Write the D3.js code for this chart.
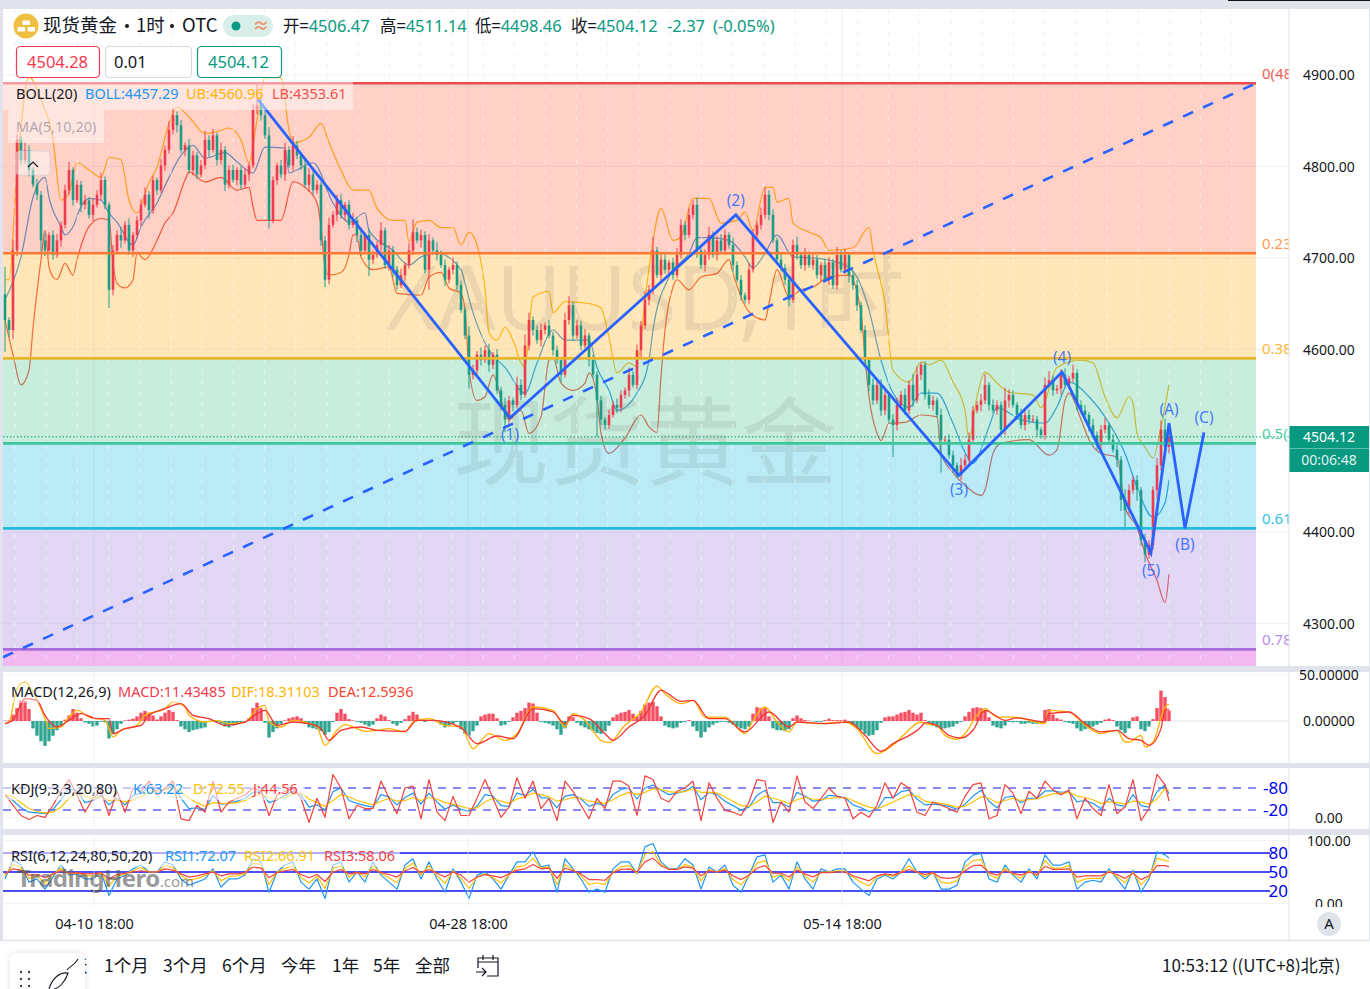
<!DOCTYPE html>
<html lang="zh">
<head>
<meta charset="utf-8">
<title>现货黄金 1时</title>
<script src="https://cdn.jsdelivr.net/npm/d3@7"></script>
<style>
html,body{margin:0;padding:0;background:#e0e3eb;overflow:hidden}
svg{display:block}
text{font-family:"Noto Sans","Noto Sans CJK SC",sans-serif}
.cjk{font-family:"Noto Sans CJK SC","Noto Sans",sans-serif}
</style>
</head>
<body>
<svg id="chart" width="1370" height="989"></svg>
<script>
// ---- hourly candles: closes, wick lengths above and below the body ----
const firstOpen = 4660;
const closes = [
4632,4621,4708,4829,4807,4818,4796,4780,4769,4719,4708,4725,4703,4719,4736,4774,4796,4763,4780,4758,
4763,4747,4758,4769,4785,4758,4665,4708,4725,4719,4736,4708,4725,4741,4758,4769,4752,4785,4774,4801,
4818,4840,4856,4845,4818,4823,4796,4812,4791,4801,4829,4818,4834,4807,4818,4780,4796,4785,4796,4780,
4791,4801,4862,4867,4856,4834,4741,4785,4801,4791,4818,4801,4823,4812,4801,4780,4791,4774,4780,4719,
4676,4736,4747,4763,4747,4758,4736,4741,4725,4708,4725,4698,4703,4714,4730,4692,4708,4687,4670,4681,
4692,4708,4728,4719,4725,4687,4719,4708,4703,4692,4676,4687,4692,4670,4643,4615,4572,4577,4594,4588,
4599,4583,4594,4555,4539,4523,4544,4539,4561,4550,4604,4632,4621,4610,4621,4626,4615,4599,4588,4572,
4632,4648,4615,4626,4604,4615,4588,4572,4544,4523,4517,4528,4539,4536,4550,4555,4572,4561,4599,4626,
4654,4665,4708,4681,4698,4687,4695,4681,4703,4736,4725,4747,4758,4708,4692,4703,4725,4703,4719,4708,
4725,4714,4692,4676,4659,4654,4687,4725,4736,4747,4769,4747,4719,4698,4689,4676,4654,4714,4703,4692,
4703,4692,4698,4681,4692,4676,4695,4670,4703,4687,4703,4681,4670,4648,4621,4588,4561,4544,4561,4533,
4550,4523,4517,4539,4550,4533,4561,4544,4572,4583,4550,4539,4544,4528,4501,4501,4484,4473,4462,4473,
4479,4501,4533,4539,4544,4561,4539,4533,4539,4512,4544,4550,4539,4528,4517,4528,4523,4523,4512,4506,
4561,4566,4555,4557,4572,4561,4568,4574,4539,4533,4528,4517,4506,4495,4512,4517,4501,4490,4479,4435,
4424,4446,4457,4446,4391,4375,4386,4446,4473,4512,4493,4504.12];
const upperWick = [
30,3,12,6,4,8,5,3,6,4,8,3,5,7,4,6,9,3,5,4,6,3,7,5,8,4,3,6,5,9,4,7,3,5,6,8,4,5,3,7,
5,9,8,4,6,3,7,5,4,6,10,5,7,3,8,4,5,6,3,4,7,3,6,24,8,5,9,4,3,6,8,4,10,5,3,6,7,4,5,3,
5,8,4,6,7,3,5,8,4,6,3,7,5,4,9,3,6,5,4,7,3,8,14,5,6,4,7,3,9,5,6,3,8,4,5,3,10,6,4,8,
5,7,3,6,4,8,5,3,9,6,12,8,4,5,7,3,6,4,5,3,8,10,4,6,5,7,3,6,4,5,3,6,4,7,5,3,8,4,6,5,
9,5,15,4,6,7,3,5,8,6,4,7,5,8,3,6,9,4,5,7,6,3,8,4,5,3,7,6,4,8,8,5,6,3,7,4,5,6,9,3,
8,4,6,5,3,7,6,4,9,5,7,3,5,6,4,5,3,7,4,6,5,3,6,8,4,7,5,12,9,3,4,6,5,3,7,4,6,5,3,8,
6,8,5,4,7,12,3,6,5,4,14,6,5,3,7,4,6,5,4,3,8,10,5,4,6,7,3,9,4,5,6,3,7,4,5,8,3,6,5,4,
12,6,4,5,3,7,5,4,8,10,12,15];
const lowerWick = [
35,8,10,6,5,4,7,3,6,12,6,4,5,3,7,4,5,6,3,8,5,4,7,3,6,5,20,6,4,8,3,5,7,4,6,3,9,4,5,3,
6,4,5,8,3,7,4,6,5,3,4,8,3,6,5,7,4,3,6,5,4,7,3,5,6,4,9,3,5,4,7,3,6,4,5,3,8,5,4,6,
8,5,3,7,4,6,5,3,8,6,4,18,5,3,7,4,6,8,5,3,6,4,5,3,8,4,22,5,6,3,7,4,5,6,3,4,15,5,4,6,
3,8,5,4,6,14,5,7,4,6,3,5,6,4,7,5,3,6,4,8,3,5,6,4,5,3,7,4,40,6,5,4,3,6,5,4,7,3,5,8,
4,6,5,3,7,4,6,5,3,4,6,3,5,8,4,7,5,3,6,4,5,4,8,3,6,4,5,3,7,5,4,6,3,5,4,6,7,3,5,4,
6,3,5,4,7,3,6,4,5,3,4,8,5,6,3,4,7,5,4,6,5,4,35,6,3,5,4,7,3,6,5,4,6,3,36,5,4,8,3,5,
6,4,5,3,7,4,6,3,5,4,6,8,3,5,4,6,5,3,8,4,5,3,6,4,7,3,5,4,6,3,4,7,3,5,6,4,5,3,8,12,
22,5,4,12,6,8,4,5,10,6,5,7];

// ---- Bollinger bands (bar position, price) ----
const upperBars = [0,1,3,6,9,12,14,16,18,21,24,26,29,31,33,36,38,41,43,46,50,53,56,59,61,63,65,69,71,72,76,79,81,84,87,91,93,97,100,101,103,106,109,112,114,116,118,120,121,123,125,127,129,130,132,136,137,140,146,149,151,153,156,158,160,162,164,167,169,172,176,179,183,185,187,190,192,193,196,197,201,204,206,212,216,217,220,222,226,229,231,234,237,240,241,243,245,248,251,257,259,263,269,272,275,278,281,282,283,285,287,289,291];
const upperBand = [4676,4676,4796,4898,4873,4829,4763,4771,4804,4796,4788,4810,4807,4763,4749,4782,4799,4847,4865,4854,4836,4838,4842,4829,4804,4851,4897,4897,4840,4826,4832,4847,4826,4796,4774,4774,4754,4741,4741,4717,4739,4741,4733,4733,4714,4728,4714,4665,4618,4610,4624,4610,4585,4580,4657,4663,4640,4652,4650,4645,4613,4574,4585,4581,4654,4719,4754,4719,4723,4765,4765,4738,4741,4750,4730,4777,4777,4761,4765,4738,4728,4722,4708,4711,4733,4708,4650,4577,4564,4586,4583,4588,4564,4533,4501,4548,4575,4563,4553,4550,4536,4580,4588,4585,4548,4525,4548,4541,4508,4493,4481,4515,4560.96];
const lowerBars = [0,2,4,6,7,9,10,11,12,13,15,17,18,21,24,26,27,28,30,32,33,35,38,40,42,45,46,50,54,58,61,62,63,69,72,75,78,79,80,81,84,86,87,88,89,92,96,98,104,106,109,111,114,115,116,118,120,122,125,126,129,131,134,136,137,139,142,145,146,148,149,151,155,159,161,163,164,165,167,168,171,174,178,181,182,186,190,191,193,196,199,202,206,211,214,215,216,218,219,221,225,229,233,234,237,240,244,245,247,249,256,261,263,265,266,269,271,274,278,280,283,285,288,290,291];
const lowerBand = [4632,4594,4561,4577,4623,4698,4730,4690,4679,4676,4694,4681,4698,4734,4743,4741,4694,4672,4667,4676,4705,4698,4719,4738,4749,4785,4794,4783,4788,4774,4777,4756,4741,4741,4783,4777,4760,4734,4690,4681,4684,4703,4725,4725,4701,4687,4690,4661,4659,4679,4684,4667,4661,4643,4577,4544,4548,4572,4530,4523,4533,4508,4526,4588,4591,4563,4555,4563,4574,4548,4508,4486,4503,4528,4515,4509,4570,4621,4668,4676,4665,4679,4683,4698,4683,4641,4632,4650,4687,4657,4665,4668,4679,4681,4640,4591,4548,4508,4500,4519,4520,4528,4526,4486,4465,4451,4440,4446,4486,4497,4501,4484,4490,4544,4552,4523,4501,4486,4482,4427,4405,4377,4347,4323,4353.61];
const middleBars = [0,4,7,10,11,14,15,17,19,21,24,26,28,32,34,38,41,44,47,50,55,58,62,65,70,71,77,82,86,90,91,97,101,104,108,114,115,117,121,125,130,133,137,140,146,148,151,153,158,161,162,166,171,173,176,181,185,187,190,193,197,202,209,213,216,219,222,226,229,233,237,240,242,246,248,254,260,263,266,271,276,280,283,287,290,291];
const middleBand = [4654,4701,4766,4788,4766,4734,4725,4734,4756,4765,4763,4749,4739,4714,4734,4760,4788,4812,4823,4809,4815,4805,4793,4821,4820,4793,4804,4760,4739,4749,4730,4708,4692,4701,4705,4687,4672,4640,4599,4580,4552,4585,4621,4610,4610,4580,4555,4533,4552,4588,4621,4679,4705,4722,4722,4719,4701,4689,4705,4725,4701,4700,4694,4679,4643,4588,4552,4536,4552,4552,4519,4487,4475,4515,4536,4523,4519,4537,4564,4548,4519,4486,4449,4416,4432,4457.29];

// ---- Fibonacci retracement and Elliott wave drawing ----
const fibHigh = 4891, fibLow = 4103;
const fibRatios = [0, 0.236, 0.382, 0.5, 0.618, 0.786];
const fibTexts = ["0(48","0.23","0.38","0.5(","0.61","0.78"];
const fibLineColors = ["#ef4b50","#ff7a30","#e8b52c","#3fc69a","#25bbdc","#a86bdc"];
const fibTextColors = ["#f0625a","#ff9a50","#ffb63a","#4fcfa4","#2cc3e2","#b48fe6"];
const fibZoneColors = ["#ff795c","#ffb837","#62cc9e","#37c3e2","#a98de2","#da34d4"];
const trendBars = [-0.5, 312.75];
const trendPrices = [4263, 4891];
const waveBars = [63.25,126.25,182.7,238.5,264.25,286.5,291,295,299.75];
const wavePrices = [4873,4525,4747,4462,4575,4377,4519,4404,4509];
const waveLabels = ["","(1)","(2)","(3)","(4)","(5)","(A)","(B)","(C)"];
const waveLabelGap = [0,17,-14,14,-14,18,-14,16,-15];

// ---- MACD ----
const macdHistogram = [
0.4,0.7,7,14,22,22,13,-8,-16,-22,-27,-22,-16,-10,-5,1.5,6,13,9,3,
-1.5,-3,-6,-5,-1,-1.5,-19,-14,-9,-3,0.7,1.5,2.5,5,9,11,9,6,1.5,5,
9,12,10,1,-6,-9,-12,-10,-9,-8,-7,-1,0.7,-1.5,-3,-6,-7,-5,-3,-2,
-1.5,3,14,20,14,-2,-18,-12,-8,-3,0.7,3,4,5,3,-3,-7,-8,-9,-11,
-15,-12,-1,9,13,8,2,0.7,-1,-2,-4,-6,-4,3,7,5,1,-3,-5,-2,
2,6,10,7,2,-1,0.7,1.5,1,-4,-7,-5,-3,-1,-9,-14,-16,-11,-5,5,
7,8,8,3,-5,-4,-1,4,9,11,14,20,19,9,-1,-2,-3,-5,-9,-15,
-8,5,4,-2,-5,-7,-9,-11,-13,-14,-11,-5,4,7,9,10,12,8,5,11,
18,20,21,16,5,-5,-7,-8,-7,-2,-1,1,-6,-11,-18,-12,-7,-4,-2,-1,
-1,-2,-4,-6,-8,-9,-6,8,15,14,14,5,-8,-10,-10,-11,-9,3,6,3,
1,0.5,-0.5,-1,-1,1,2.5,1,1,1,1.5,-1,-5,-8,-10,-14,-16,-15,-10,-2,
4,5,5,7,9,10,12,9,7,9,1,-2,-5,-7,-9,-8,-7,-6,-3,-1,
5,10,14,15,14,11,4,-5,-7,-8,-5,-1,-1.5,-1,-3,-3,-2,-3,-3,-2,
12,13,7,3,1.5,-1,-2,-3,-8,-11,-9,-8,-6,-4,-2,1.5,2.5,1,-6,-10,
-13,-8,4,5,-9,-11,-6,2,14,33,26,11.43485];
const difBars = [0,1,3,5,7,10,11,14,16,18,21,25,27,29,33,35,40,42,45,46,50,53,56,60,63,65,66,69,72,75,78,80,83,85,87,90,93,96,100,102,106,110,114,117,121,125,128,132,137,140,142,145,149,151,155,159,163,165,169,172,175,180,185,187,190,193,196,198,203,210,213,218,222,225,229,230,233,235,238,240,243,245,248,252,260,261,266,270,274,278,280,281,284,285,287,290,291];
const difValues = [-2.9,-1.1,35.1,42.4,31.5,2.5,-8.3,-6.5,4.3,11.6,4.3,0.7,-17.4,-10.1,-4.7,6.2,13.4,20.6,15.2,6.2,-1.1,0.7,-2.9,-1.1,13.4,17,-1.1,-6.5,0.7,-1.1,-6.5,-26.4,-10.1,-4,-6.5,-11.2,-10.1,-8.3,-11.9,-1.1,2.5,-4.7,-6.5,-30,-13.8,-21,-13.8,15.2,11.6,-6.5,8,0.7,-21,-23.5,-4.7,9.8,38,29.7,18.8,22.4,4.3,4.3,-13.8,0.7,15.2,-1.1,-11.9,-1.1,-2.9,-1.1,-8.3,-35.5,-26.4,-13.8,-1.1,-2.9,-4.7,-15.6,-19.9,-13.8,6.2,13.4,4.3,4.3,-2.9,11.6,9.8,-4.7,-13.8,-10.1,-22.8,-22.8,-15.6,-28.2,-22.8,15.2,18.31103];
const deaBars = [0,2,5,8,10,13,16,19,23,26,27,30,34,36,40,44,47,51,55,60,63,65,68,72,76,79,81,84,89,93,100,103,107,114,118,123,127,132,137,140,142,146,150,152,156,160,164,169,172,176,180,185,191,196,198,205,211,215,219,222,229,230,233,236,239,242,245,250,253,260,261,266,270,274,278,281,284,286,289,290,291];
const deaValues = [-2.9,0.7,24.3,22.4,6.2,-6.5,0.7,8,2.5,2.5,-13.8,-8.3,-4.7,6.2,13.4,18.8,6.2,2.5,-4.7,-1.1,8,11.6,-4.7,-1.1,-2.9,-8.3,-21,-10.1,-6.5,-10.1,-11.2,0.7,0.7,-7.2,-24.6,-16.3,-19.2,13.4,9.8,-2.9,6.2,2.5,-13.8,-21,-6.5,6.2,33.3,21.4,22.4,2.5,2.5,-11.9,9.8,-6.5,-1.1,-2.9,-1.1,-15.6,-32.9,-24.6,-6.5,-1.8,-4.7,-15.6,-18.5,-10.1,11.6,0.7,3.3,-1.1,8,9.8,-2.9,-11.9,-10.1,-19.2,-21,-26.4,-8.3,11.6,12.5936];

// ---- KDJ ----
const kdjK = [
60,46,26,14,12,10,22,48,78,72,40,46,60,34,52,34,60,66,82,72,76,88,52,24,26,22,60,36,38,44,52,68,70,40,48,60,72,62,28,34,20,70,80,46,38,32,28,62,56,34,54,66,36,66,42,22,34,22,
16,30,62,58,32,30,66,60,76,54,52,26,58,62,50,30,38,32,62,76,80,50,80,88,74,62,66,72,84,48,68,62,44,32,20,28,60,74,40,40,28,68,58,44,46,60,58,54,34,26,16,22,54,54,70,74,50,
34,36,34,30,22,36,58,74,44,26,54,58,40,52,52,72,72,68,70,42,46,38,24,52,34,30,62,32,28,70,88,63.22];
const kdjD = [
62,56,40,24,16,12,14,28,52,66,58,50,56,46,48,42,48,56,68,72,74,80,70,52,40,30,40,38,38,40,46,56,64,54,50,54,64,66,50,40,30,46,62,56,46,40,34,44,52,44,46,54,46,54,50,40,36,30,
24,26,42,52,44,38,50,56,66,62,56,44,48,54,52,44,42,38,48,60,68,62,68,78,76,70,68,70,78,68,68,66,56,44,32,30,42,58,52,46,38,48,54,50,48,52,54,54,46,36,28,24,32,42,52,62,58,
44,40,38,34,28,30,42,56,52,40,46,52,46,48,50,58,64,66,68,58,54,48,38,42,40,36,44,42,36,50,78,72.55];
const kdjJ = [
61,33,5,-6,5,0,33,71,103,61,14,52,71,5,71,14,80,71,99,61,80,99,-4,-9,33,14,99,14,42,52,61,80,71,5,61,71,80,52,-14,52,0,117,80,-4,33,24,24,99,52,10,80,85,-4,103,14,-9,57,5,
5,52,103,52,0,28,108,52,99,24,52,-9,99,71,33,-4,52,24,99,99,85,5,113,103,52,42,71,80,99,-9,94,52,19,14,5,42,103,99,-14,42,14,113,42,24,52,80,57,52,-4,14,0,33,94,52,94,80,14,
5,42,33,24,14,57,89,94,-4,5,89,66,10,71,52,99,75,61,75,-4,52,24,5,89,10,28,103,-9,24,117,89,44.56];

// ---- RSI ----
const rsi1 = [
39,69,61,34,39,23,42,61,45,47,39,39,50,13,39,45,55,61,50,50,66,61,39,29,34,39,55,26,39,39,45,71,66,18,50,61,66,34,23,39,8,61,66,34,50,34,66,45,34,23,61,71,39,66,39,18,55,34,
8,45,50,39,23,45,66,66,82,58,61,18,71,55,39,18,23,18,55,66,66,47,90,95,66,55,55,71,61,23,58,50,61,29,18,45,74,77,34,45,23,66,39,23,55,50,55,55,34,23,13,39,45,39,50,71,50,
39,50,23,23,29,66,77,79,39,34,61,45,34,55,39,77,61,61,66,23,34,37,34,55,39,23,53,18,39,82,77,72.07];
const rsi2 = [
44,62,57,40,44,32,46,56,47,48,44,44,49,28,43,47,52,57,50,50,60,57,44,37,40,44,52,36,43,44,47,64,62,30,50,56,60,41,33,43,24,56,60,42,50,42,60,48,41,33,56,64,45,60,44,32,52,40,
24,42,47,41,33,45,58,60,72,56,58,30,62,53,44,30,33,30,50,58,60,48,78,82,62,54,54,62,58,36,54,50,56,38,30,44,64,68,42,46,36,58,44,34,50,50,52,52,42,34,28,43,46,43,50,60,50,
43,49,34,32,36,58,68,70,46,40,56,47,40,52,44,68,56,56,60,34,39,40,40,52,43,33,50,30,42,72,68,66.91];
const rsi3 = [
47,55,53,45,46,41,47,52,48,49,47,47,49,39,46,48,50,52,50,50,55,53,47,42,44,47,50,44,47,47,49,58,56,41,49,52,54,46,41,46,35,50,54,47,49,47,54,49,46,42,52,57,49,54,48,42,50,45,
34,42,46,44,41,47,53,55,62,55,56,40,56,52,47,38,38,37,49,54,55,50,66,72,60,54,54,58,56,44,52,50,53,44,38,45,56,60,48,48,42,53,47,42,49,49,50,50,44,40,36,44,47,45,49,54,50,
46,49,41,40,42,52,60,61,49,45,52,48,45,50,46,59,54,54,55,42,44,44,44,50,46,40,48,38,44,60,60,58.06];

// ---- axis ticks and header figures ----
const priceTicks = [4900,4800,4700,4600,4400,4300];
const macdTicks = [50,0];
const kdjTicks = [0];
const rsiTicks = [100,0];
const timeBars = [22.25,115.75,209.25];
const timeLabels = ["04-10 18:00","04-28 18:00","05-14 18:00"];
const rangeButtons = ["1个月","3个月","6个月","今年","1年","5年","全部"];
const rangeButtonX = [104,163,222,281,332,373,415];
const lastPrice = 4504.12;

// ---- colours ----
const UP = "#ef3b4d", DOWN = "#1a9c86", INK = "#131722", WAVE = "#2962ff", BAND = "#e0e3eb";

const svg = d3.select("#chart");
const defs = svg.append("defs");
function clip(id, x, y, w, h) {
  defs.append("clipPath").attr("id", id).append("rect").attr("x", x).attr("y", y).attr("width", w).attr("height", h);
  return `url(#${id})`;
}
const mainClip = clip("c-main", 3, 9, 1286, 657);
const macdClip = clip("c-macd", 3, 672, 1286, 91);
const kdjClip = clip("c-kdj", 3, 768, 1286, 61);
const rsiClip = clip("c-rsi", 3, 835, 1286, 72);
const rsiAxisClip = clip("c-rsi-axis", 1290, 835, 79, 72);
const fibTextClip = clip("c-fibtext", 1256, 60, 33, 600);

// scales
const x = d3.scaleLinear().domain([0, 291]).range([5, 1169]);
const price = d3.scaleLinear().domain([4900, 4300]).range([75, 623.4]);
const macdY = d3.scaleLinear().domain([0, 50]).range([721, 675]);
const kdjY = d3.scaleLinear().domain([20, 80]).range([810, 788]);
const rsiY = d3.scaleLinear().domain([20, 80]).range([891, 853]);

// page panels
const panelRows = [[9, 657], [672, 91], [768, 61], [835, 72], [907, 33]];
svg.append("g").selectAll("rect").data(panelRows).join("rect")
  .attr("x", 3).attr("width", 1366).attr("y", d => d[0]).attr("height", d => d[1]).attr("fill", "#fff");
svg.append("rect").attr("x", 0).attr("y", 941).attr("width", 1370).attr("height", 48).attr("fill", "#fff");
svg.append("rect").attr("x", 1228).attr("y", 0).attr("width", 142).attr("height", 1).attr("fill", "#111");

// ---- main pane ----
const main = svg.append("g").attr("clip-path", mainClip);

main.append("g").selectAll("line").data(priceTicks).join("line")
  .attr("x1", 3).attr("x2", 1289).attr("y1", d => price(d)).attr("y2", d => price(d))
  .attr("stroke", "#f0f1f4");
main.append("g").selectAll("line").data(timeBars).join("line")
  .attr("x1", d => x(d)).attr("x2", d => x(d)).attr("y1", 9).attr("y2", 666)
  .attr("stroke", "#eceef2");

const lineAt = (bars, curve) => d3.line().x((d, i) => x(bars[i])).curve(curve);
main.append("path").attr("d", lineAt(upperBars, d3.curveMonotoneX).y(d => price(d))(upperBand)).attr("fill", "none").attr("stroke", "#ffb300").attr("stroke-width", 1.2);
main.append("path").attr("d", lineAt(lowerBars, d3.curveMonotoneX).y(d => price(d))(lowerBand)).attr("fill", "none").attr("stroke", "#f4452f").attr("stroke-width", 1.2);
main.append("path").attr("d", lineAt(middleBars, d3.curveMonotoneX).y(d => price(d))(middleBand)).attr("fill", "none").attr("stroke", "#1f8fe8").attr("stroke-width", 1.2);

// retracement zones laid over the bands
const fibPrice = r => fibHigh - (fibHigh - fibLow) * r;
const zoneEdges = fibRatios.concat([1]);
const zoneRight = x(trendBars[1]);
main.append("g").selectAll("rect").data(fibRatios).join("rect")
  .attr("x", 3).attr("width", zoneRight - 3)
  .attr("y", d => price(fibPrice(d)))
  .attr("height", (d, i) => price(fibPrice(zoneEdges[i + 1])) - price(fibPrice(d)))
  .attr("fill", (d, i) => fibZoneColors[i]).attr("fill-opacity", 0.35);

// large symbol captions behind the candles
const caption = main.append("g").attr("fill", "#555").attr("fill-opacity", 0.11).attr("text-anchor", "middle");
caption.append("text").attr("x", 645).attr("y", 330).attr("font-size", 90).text("XAUUSD,1时");
caption.append("text").attr("x", 645).attr("y", 477).attr("font-size", 96).attr("class", "cjk").text("现货黄金");

// dashed time grid
const dashBars = d3.range(2.5, 313, 7.8);
const dashes = main.append("g");
dashes.selectAll("line.top").data(dashBars).join("line").attr("class", "top")
  .attr("x1", d => x(d)).attr("x2", d => x(d)).attr("y1", 9).attr("y2", 83)
  .attr("stroke", "#eef0f3").attr("stroke-dasharray", "4 7");
dashes.selectAll("line.zone").data(dashBars).join("line").attr("class", "zone")
  .attr("x1", d => x(d)).attr("x2", d => x(d)).attr("y1", 83).attr("y2", 666)
  .attr("stroke", "#fff").attr("stroke-opacity", 0.55).attr("stroke-dasharray", "4 7");

// candles
const candles = closes.map((c, i) => {
  const o = i ? closes[i - 1] : firstOpen;
  return { i, o, c, h: Math.max(o, c) + upperWick[i], l: Math.min(o, c) - lowerWick[i] };
});
const candleG = main.append("g");
candleG.selectAll("line").data(candles).join("line")
  .attr("x1", d => x(d.i)).attr("x2", d => x(d.i))
  .attr("y1", d => price(d.h)).attr("y2", d => price(d.l))
  .attr("stroke", d => d.c >= d.o ? UP : DOWN).attr("stroke-width", 1);
candleG.selectAll("rect").data(candles).join("rect")
  .attr("x", d => x(d.i) - 1.3).attr("width", 2.6)
  .attr("y", d => price(Math.max(d.o, d.c)))
  .attr("height", d => Math.max(1, Math.abs(price(d.o) - price(d.c))))
  .attr("fill", d => d.c >= d.o ? UP : DOWN);

// retracement levels
main.append("g").selectAll("line").data(fibRatios).join("line")
  .attr("x1", 3).attr("x2", zoneRight)
  .attr("y1", d => price(fibPrice(d))).attr("y2", d => price(fibPrice(d)))
  .attr("stroke", (d, i) => fibLineColors[i]).attr("stroke-width", 2.6);
svg.append("g").attr("clip-path", fibTextClip).selectAll("text").data(fibRatios).join("text")
  .attr("x", 1262).attr("y", d => price(fibPrice(d)) - 4)
  .attr("font-size", 15).attr("fill", (d, i) => fibTextColors[i])
  .text((d, i) => fibTexts[i]);

// last price line
main.append("line").attr("x1", 3).attr("x2", 1289).attr("y1", price(lastPrice)).attr("y2", price(lastPrice))
  .attr("stroke", "#089981").attr("stroke-dasharray", "1.5 2");

// trend line and wave count
main.append("path")
  .attr("d", d3.line().x((d, i) => x(trendBars[i])).y(d => price(d))(trendPrices))
  .attr("fill", "none").attr("stroke", WAVE).attr("stroke-width", 2.6).attr("stroke-dasharray", "11 11");
main.append("path")
  .attr("d", d3.line().x((d, i) => x(waveBars[i])).y(d => price(d))(wavePrices))
  .attr("fill", "none").attr("stroke", WAVE).attr("stroke-width", 2.8).attr("stroke-linejoin", "miter");
main.append("g").selectAll("text").data(waveLabels).join("text")
  .attr("x", (d, i) => x(waveBars[i])).attr("y", (d, i) => price(wavePrices[i]) + waveLabelGap[i])
  .attr("dy", "0.35em").attr("text-anchor", "middle").attr("font-size", 15.5).attr("fill", WAVE).attr("fill-opacity", 0.85)
  .text(d => d);

// main legends
const legendBoxes = svg.append("g").attr("fill", "#fff").attr("fill-opacity", 0.45);
legendBoxes.append("rect").attr("x", 3).attr("y", 81).attr("width", 350).attr("height", 29);
legendBoxes.append("rect").attr("x", 8).attr("y", 110).attr("width", 96).attr("height", 33);
legendBoxes.append("rect").attr("x", 16).attr("y", 151).attr("width", 34).attr("height", 24).attr("rx", 4).attr("stroke", "#c9ccd6").attr("stroke-opacity", 0.6);
function legendRow(y, items) {
  const g = svg.append("g").attr("font-size", 14.5);
  items.forEach(([tx, t, c, o]) => g.append("text").attr("x", tx).attr("y", y).attr("fill", c).attr("fill-opacity", o || 1).text(t));
}
legendRow(99, [[16, "BOLL(20)", INK], [85, "BOLL:4457.29", "#2196f3"], [186, "UB:4560.96", "#ffb300"], [272, "LB:4353.61", "#f4514a"]]);
legendRow(132, [[16, "MA(5,10,20)", "#6b7080", 0.55]]);
svg.append("path").attr("d", d3.line()([[28, 167], [33, 162], [38, 167]])).attr("fill", "none").attr("stroke", INK).attr("stroke-width", 1.2);

// price axis
const axisFont = sel => {
  sel.select(".domain").remove();
  sel.selectAll("line").remove();
  sel.selectAll("text").attr("fill", INK).attr("font-size", 14).attr("text-anchor", "start").attr("x", 0).attr("dy", "0.35em");
};
svg.append("g").attr("transform", "translate(1303,0)")
  .call(d3.axisRight(price).tickValues(priceTicks).tickFormat(d => d.toFixed(2))).call(axisFont);

// price tag
const tagY = 426;
svg.append("rect").attr("x", 1289).attr("y", tagY).attr("width", 80).attr("height", 46).attr("fill", "#089981");
svg.append("line").attr("x1", 1289).attr("x2", 1369).attr("y1", tagY + 22.5).attr("y2", tagY + 22.5).attr("stroke", "#5cc0ae");
const tagText = svg.append("g").attr("fill", "#fff").attr("font-size", 14).attr("text-anchor", "middle");
tagText.append("text").attr("x", 1329).attr("y", tagY + 16).text(lastPrice.toFixed(2));
tagText.append("text").attr("x", 1329).attr("y", tagY + 39).attr("fill-opacity", 0.9).text("00:06:48");

// ---- MACD pane ----
const macdG = svg.append("g").attr("clip-path", macdClip);
macdG.append("line").attr("x1", 3).attr("x2", 1289).attr("y1", macdY(0)).attr("y2", macdY(0)).attr("stroke", "#eceef2").attr("stroke-width", 1.5);
macdG.append("line").attr("x1", 3).attr("x2", 1289).attr("y1", 675).attr("y2", 675).attr("stroke", "#f1f2f5");
macdG.append("g").selectAll("rect").data(macdHistogram).join("rect")
  .attr("x", (d, i) => x(i) - 1.7).attr("width", 3.4)
  .attr("y", d => d >= 0 ? macdY(d) : macdY(0))
  .attr("height", d => Math.abs(macdY(d) - macdY(0)))
  .attr("fill", d => d >= 0 ? "#f23b50" : "#1a9c86").attr("fill-opacity", 0.9);
macdG.append("path").attr("d", lineAt(difBars, d3.curveMonotoneX).y(d => macdY(d))(difValues)).attr("fill", "none").attr("stroke", "#ffb300").attr("stroke-width", 1.3);
macdG.append("path").attr("d", lineAt(deaBars, d3.curveMonotoneX).y(d => macdY(d))(deaValues)).attr("fill", "none").attr("stroke", "#f4352f").attr("stroke-width", 1.3);
svg.append("g").attr("transform", "translate(1299,0)")
  .call(d3.axisRight(macdY).tickValues(macdTicks).tickFormat(d => d.toFixed(5))).call(axisFont)
  .selectAll("text").attr("x", (d) => d === 50 ? 0 : 4);
svg.append("rect").attr("x", 3).attr("y", 681).attr("width", 410).attr("height", 22).attr("fill", "#fff").attr("fill-opacity", 0.4);
legendRow(697, [[11, "MACD(12,26,9)", INK], [118, "MACD:11.43485", "#f23b50"], [231, "DIF:18.31103", "#ffb300"], [328, "DEA:12.5936", "#f4452f"]]);

// ---- KDJ pane ----
const indicatorBar = i => Math.min(i * 2, 291);
const guide = "#1212f0";
const kdjG = svg.append("g").attr("clip-path", kdjClip);
kdjG.append("line").attr("x1", 3).attr("x2", 1289).attr("y1", kdjY(0)).attr("y2", kdjY(0)).attr("stroke", "#f1f2f5");
kdjG.append("g").selectAll("line").data([80, 20]).join("line")
  .attr("x1", 3).attr("x2", 1262).attr("y1", d => kdjY(d)).attr("y2", d => kdjY(d))
  .attr("stroke", guide).attr("stroke-width", 1.2).attr("stroke-dasharray", "8 7");
const seriesLine = (g, values, scale, color, w) => g.append("path")
  .attr("d", d3.line().x((d, i) => x(indicatorBar(i))).y(d => scale(d))(values))
  .attr("fill", "none").attr("stroke", color).attr("stroke-width", w).attr("stroke-linejoin", "round");
seriesLine(kdjG, kdjK, kdjY, "#2196f3", 1.2);
seriesLine(kdjG, kdjD, kdjY, "#ffc107", 1.2);
seriesLine(kdjG, kdjJ, kdjY, "#f4433f", 1.2);
svg.append("rect").attr("x", 3).attr("y", 778).attr("width", 302).attr("height", 22).attr("fill", "#fff").attr("fill-opacity", 0.55);
legendRow(794, [[11, "KDJ(9,3,3,20,80)", INK], [133, "K:63.22", "#2196f3"], [193, "D:72.55", "#ffc107"], [253, "J:44.56", "#f4433f"]]);
const guideText = (y, t) => svg.append("text").attr("x", 1288).attr("y", y).attr("dy", "0.35em").attr("text-anchor", "end").attr("font-size", 17).attr("fill", "#0000f0").text(t);
guideText(kdjY(80), "-80");
guideText(kdjY(20), "-20");
svg.append("g").attr("transform", "translate(1315,0)")
  .call(d3.axisRight(kdjY).tickValues(kdjTicks).tickFormat(d => d.toFixed(2))).call(axisFont);

// ---- RSI pane ----
const rsiG = svg.append("g").attr("clip-path", rsiClip);
rsiG.append("g").selectAll("line").data([100, 0]).join("line")
  .attr("x1", 3).attr("x2", 1289).attr("y1", d => rsiY(d)).attr("y2", d => rsiY(d)).attr("stroke", "#f1f2f5");
rsiG.append("g").selectAll("line").data([80, 50, 20]).join("line")
  .attr("x1", 3).attr("x2", 1270).attr("y1", d => rsiY(d)).attr("y2", d => rsiY(d))
  .attr("stroke", guide).attr("stroke-width", 1.3);
seriesLine(rsiG, rsi1, rsiY, "#2196f3", 1.2);
seriesLine(rsiG, rsi2, rsiY, "#ffc107", 1.2);
seriesLine(rsiG, rsi3, rsiY, "#f4433f", 1.2);
svg.append("rect").attr("x", 3).attr("y", 845).attr("width", 397).attr("height", 22).attr("fill", "#fff").attr("fill-opacity", 0.55);
legendRow(861, [[11, "RSI(6,12,24,80,50,20)", INK], [165, "RSI1:72.07", "#2196f3"], [244, "RSI2:66.91", "#ffc107"], [324, "RSI3:58.06", "#f4433f"]]);
guideText(rsiY(80), "80");
guideText(rsiY(50), "50");
guideText(rsiY(20), "20");
svg.append("g").attr("clip-path", rsiAxisClip).append("g").attr("transform", "translate(1307,0)")
  .call(d3.axisRight(rsiY).tickValues(rsiTicks).tickFormat(d => d.toFixed(2))).call(axisFont)
  .selectAll("text").attr("x", d => d === 100 ? 0 : 8);
const brand = svg.append("text").attr("x", 17).attr("y", 887).attr("fill", "#555").attr("fill-opacity", 0.62);
brand.append("tspan").attr("font-size", 24).attr("font-weight", 700).attr("letter-spacing", -0.5).text("TradingHero");
brand.append("tspan").attr("font-size", 15).attr("font-weight", 400).text(".com");

// ---- time axis and separators ----
svg.append("g").selectAll("line").data(timeBars).join("line")
  .attr("x1", d => x(d)).attr("x2", d => x(d)).attr("y1", 672).attr("y2", 906)
  .attr("stroke", "#e9ebf0").attr("stroke-opacity", 0.7);
svg.append("g").attr("transform", "translate(0,907)")
  .call(d3.axisBottom(x).tickValues(timeBars).tickFormat((d, i) => timeLabels[i]))
  .call(s => { s.select(".domain").remove(); s.selectAll("line").remove(); s.selectAll("text").attr("fill", INK).attr("font-size", 14.5).attr("y", 17).attr("dy", "0.35em").attr("text-anchor", "middle"); });
svg.append("line").attr("x1", 1289).attr("x2", 1289).attr("y1", 9).attr("y2", 940).attr("stroke", BAND);
svg.append("line").attr("x1", 3).attr("x2", 1370).attr("y1", 940.5).attr("y2", 940.5).attr("stroke", BAND).attr("stroke-width", 1.5);
svg.append("circle").attr("cx", 1329).attr("cy", 924).attr("r", 12).attr("fill", BAND);
svg.append("text").attr("x", 1329).attr("y", 924).attr("dy", "0.35em").attr("text-anchor", "middle").attr("font-size", 15).attr("fill", INK).text("A");

// ---- header ----
const head = svg.append("g");
head.append("circle").attr("cx", 26).attr("cy", 26).attr("r", 12.5).attr("fill", "#f0be41");
head.append("g").attr("fill", "#fff").selectAll("rect").data([[22.5, 20.5], [17.5, 27], [27.5, 27]]).join("rect")
  .attr("x", d => d[0]).attr("y", d => d[1]).attr("width", 7.5).attr("height", 4.5).attr("rx", 0.8);
const titleParts = [[43, "现货黄金"], [136, "1时"], [182, "OTC"]];
head.append("g").selectAll("text").data(titleParts).join("text").attr("class", "cjk")
  .attr("x", d => d[0]).attr("y", 32).attr("font-size", 18.5).attr("fill", INK).text(d => d[1]);
head.append("g").attr("fill", INK).selectAll("circle").data([127, 172]).join("circle")
  .attr("cx", d => d).attr("cy", 26).attr("r", 2);
head.append("rect").attr("x", 223).attr("y", 15).attr("width", 50).attr("height", 22).attr("rx", 11).attr("fill", "#d8efe9");
head.append("circle").attr("cx", 236).attr("cy", 26).attr("r", 4.5).attr("fill", "#089981");
head.append("text").attr("x", 261).attr("y", 32).attr("text-anchor", "middle").attr("font-size", 17).attr("fill", "#f0946a").attr("font-weight", 700).text("≈");

const ohlcLabels = ["开=", "高=", "低=", "收="];
const ohlcValues = ["4506.47", "4511.14", "4498.46", "4504.12"];
const ohlcX = [283, 380, 475, 571];
ohlcLabels.forEach((l, i) => {
  const t = head.append("text").attr("class", "cjk").attr("x", ohlcX[i]).attr("y", 32).attr("font-size", 16.5);
  t.append("tspan").attr("fill", INK).text(l);
  t.append("tspan").attr("fill", "#089981").attr("font-family", "Noto Sans").text(ohlcValues[i]);
});
head.append("text").attr("x", 667).attr("y", 32).attr("font-size", 16.5).attr("fill", "#089981").text("-2.37");
head.append("text").attr("x", 713).attr("y", 32).attr("font-size", 16.5).attr("fill", "#089981").text("(-0.05%)");

const quoteBoxes = [[16, 83, "#f23b50", "4504.28", 27], [105, 86, "#d5d8e2", "0.01", 114], [197, 84, "#089981", "4504.12", 208]];
const quoteInk = ["#f23b50", INK, "#089981"];
head.append("g").selectAll("rect").data(quoteBoxes).join("rect")
  .attr("x", d => d[0] + 0.5).attr("y", 46.5).attr("width", d => d[1]).attr("height", 31).attr("rx", 4)
  .attr("fill", "#fff").attr("stroke", d => d[2]).attr("stroke-width", 1.2);
head.append("g").selectAll("text").data(quoteBoxes).join("text")
  .attr("x", d => d[4]).attr("y", 68).attr("font-size", 16.5).attr("fill", (d, i) => quoteInk[i]).text(d => d[3]);

// ---- bottom toolbar ----
const foot = svg.append("g");
foot.selectAll("text.range").data(rangeButtons).join("text").attr("class", "range cjk")
  .attr("x", (d, i) => rangeButtonX[i]).attr("y", 972).attr("font-size", 17.5).attr("fill", INK).text(d => d);
const cal = foot.append("g").attr("fill", "none").attr("stroke", INK).attr("stroke-width", 1.2);
cal.append("path").attr("d", "M478 968 V958 H498 V976 H487");
cal.append("path").attr("d", "M478 962 H498 M483 955 V960 M493 955 V960");
cal.append("path").attr("d", "M476 972 H486 M482 968 L486 972 L482 976");
foot.append("text").attr("x", 1162).attr("y", 972).attr("font-size", 17).attr("fill", INK).attr("class", "cjk").text("10:53:12 ((UTC+8)北京)");
defs.append("filter").attr("id", "shadow").attr("x", "-20%").attr("y", "-20%").attr("width", "140%").attr("height", "140%")
  .append("feDropShadow").attr("dx", 0).attr("dy", 0).attr("stdDeviation", 3).attr("flood-color", "#000").attr("flood-opacity", 0.12);
foot.append("text").attr("class", "cjk").attr("x", 70).attr("y", 972).attr("font-size", 17.5).attr("fill", INK).text("天");
foot.append("rect").attr("x", 10).attr("y", 953).attr("width", 75).attr("height", 50).attr("rx", 8).attr("fill", "#fff").attr("filter", "url(#shadow)");
foot.append("g").attr("fill", "#3a3f4b").selectAll("circle")
  .data([[21, 972], [29, 972], [21, 979], [29, 979], [21, 986], [29, 986]]).join("circle")
  .attr("cx", d => d[0]).attr("cy", d => d[1]).attr("r", 1.2);
foot.append("path").attr("d", "M49 989 C52 978 60 972 68 973 C66 980 60 988 54 989 M67 970 C70 966 74 966 78 959")
  .attr("fill", "none").attr("stroke", INK).attr("stroke-width", 1.1);
</script>
</body>
</html>
